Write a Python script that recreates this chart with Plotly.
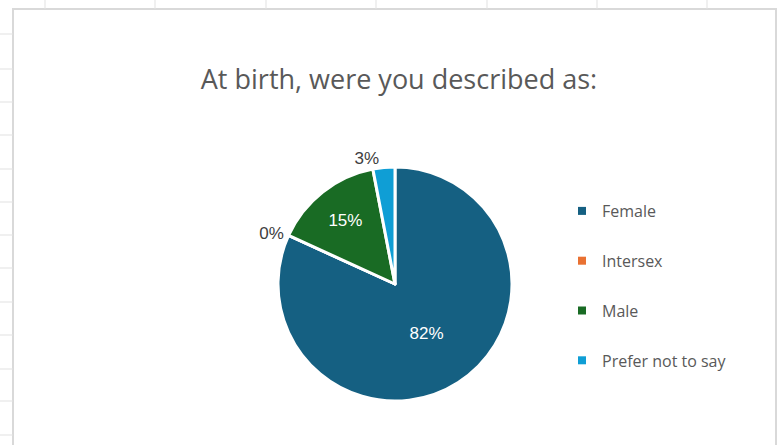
import plotly.graph_objects as go

# survey answers (counts) for the pie
labels = ["Female", "Intersex", "Male", "Prefer not to say"]
counts = [27, 0, 5, 1]
colors = ["#156082", "#E97132", "#196B24", "#0F9ED5"]
text_pos = ["inside", "outside", "inside", "outside"]
text_colors = ["white", "#404040", "white", "#404040"]

W, H = 779, 445

fig = go.Figure()

fig.add_trace(go.Pie(
    labels=labels,
    values=counts,
    sort=False,
    direction="clockwise",
    rotation=0,
    marker=dict(colors=colors, line=dict(color="white", width=3)),
    texttemplate="%{percent:.0%}",
    textposition=text_pos,
    textfont=dict(size=17, color=text_colors, family="Liberation Sans"),
    insidetextorientation="horizontal",
    showlegend=False,
    hoverinfo="label+percent",
    domain=dict(x=[(395 - 117) / W, (395 + 117) / W], y=[1 - 401 / H, 1 - 167 / H]),
))

# legend entries as separate traces so the item gap can be set
for i, lab in enumerate(labels):
    fig.add_trace(go.Scatter(
        x=[None], y=[None], mode="markers", name=lab,
        legendgroup=lab,
        marker=dict(symbol="square", size=8, color=colors[i]),
    ))

# spreadsheet grid showing around the chart box
shapes = []
for y in [34, 69, 102, 135, 169, 202, 235, 268, 302, 335, 369, 401, 435]:
    shapes.append(dict(type="line", xref="paper", yref="paper",
                       x0=0, x1=13 / W, y0=1 - y / H, y1=1 - y / H,
                       line=dict(color="#e1e1e1", width=1)))
for x in [45, 155, 266, 376, 487, 597, 707]:
    shapes.append(dict(type="line", xref="paper", yref="paper",
                       x0=x / W, x1=x / W, y0=1, y1=1 - 9 / H,
                       line=dict(color="#e1e1e1", width=1)))
shapes.append(dict(type="rect", xref="paper", yref="paper",
                   x0=13 / W, x1=776 / W, y0=-0.05, y1=1 - 9 / H,
                   line=dict(color="#d9d9d9", width=2), layer="below"))

fig.update_layout(
    width=W, height=H,
    margin=dict(l=0, r=0, t=0, b=0),
    paper_bgcolor="white",
    plot_bgcolor="rgba(0,0,0,0)",
    font=dict(family="Open Sans", color="#595959"),
    title=dict(text="At birth, were you described as:", x=399 / W, xanchor="center",
               y=1 - 80 / H, yanchor="middle",
               font=dict(size=27, color="#595959", family="Open Sans")),
    xaxis=dict(visible=False),
    yaxis=dict(visible=False),
    showlegend=True,
    legend=dict(x=562 / W, xanchor="left", y=1 - 194 / H, yanchor="top",
                font=dict(size=16, color="#595959"), tracegroupgap=26,
                bgcolor="rgba(0,0,0,0)"),
    shapes=shapes,
)

# drop the default page margin so the chart sits at the window corner
fig.write_html("out.html", config={"displayModeBar": False},
               post_script="document.body.style.margin='0px';")
